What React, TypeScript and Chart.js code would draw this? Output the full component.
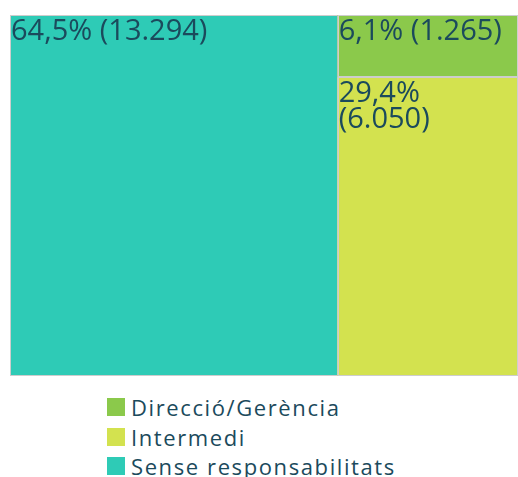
import React, { useEffect, useRef } from "react";
import { Chart, registerables } from "chart.js";

Chart.register(...registerables);

const categories = ["Direcció/Gerència", "Intermedi", "Sense responsabilitats"];
const values = [1265, 6050, 13294];
const colors = ["#8bc94b", "#d3e24f", "#2ecbb6"];

const TEXT_COLOR = "#1b4a5c";
const FONT = "'Open Sans', sans-serif";

function fmtPct(v: number, total: number) {
  return (v / total * 100).toFixed(1).replace(".", ",") + "%";
}
function fmtNum(v: number) {
  return String(v).replace(/\B(?=(\d{3})+(?!\d))/g, ".");
}

function layout() {
  const total = values.reduce((a, b) => a + b, 0);
  let maxI = 0;
  values.forEach((v, i) => { if (v > values[maxI]) maxI = i; });
  const rects: { i: number; x0: number; x1: number; y0: number; y1: number }[] = [];
  rects.push({ i: maxI, x0: 0, x1: values[maxI], y0: 0, y1: 1 });
  const rest = total - values[maxI];
  let acc = 0;
  values.forEach((v, i) => {
    if (i === maxI) return;
    rects.push({ i, x0: values[maxI], x1: total, y0: acc / rest, y1: (acc + v) / rest });
    acc += v;
  });
  return { rects, total };
}

const treemapPlugin = {
  id: "treemapRects",
  afterDatasetsDraw(chart: any) {
    const ctx = chart.ctx;
    const xs = chart.scales.x;
    const ys = chart.scales.y;
    const { rects, total } = layout();
    ctx.save();
    rects.forEach((r) => {
      const left = xs.getPixelForValue(r.x0);
      const right = xs.getPixelForValue(r.x1);
      const top = ys.getPixelForValue(r.y0);
      const bottom = ys.getPixelForValue(r.y1);
      ctx.fillStyle = colors[r.i];
      ctx.fillRect(left, top, right - left, bottom - top);
      ctx.strokeStyle = "#cdcdcd";
      ctx.lineWidth = 1;
      ctx.strokeRect(Math.round(left) + 0.5, Math.round(top) + 0.5, Math.round(right - left) - 1, Math.round(bottom - top) - 1);
    });
    rects.forEach((r) => {
      const left = xs.getPixelForValue(r.x0);
      const right = xs.getPixelForValue(r.x1);
      const top = ys.getPixelForValue(r.y0);
      const label = fmtPct(values[r.i], total) + " (" + fmtNum(values[r.i]) + ")";
      ctx.font = `29px ${FONT}`;
      ctx.fillStyle = TEXT_COLOR;
      ctx.textBaseline = "alphabetic";
      ctx.textAlign = "left";
      const avail = right - left - 4;
      let lines = [label];
      if (ctx.measureText(label).width > avail) lines = label.split(" ");
      lines.forEach((ln, k) => {
        ctx.fillText(ln, left + 1, top + 25 + k * 26);
      });
    });
    ctx.restore();
  },
};

export default function App() {
  const ref = useRef<HTMLCanvasElement | null>(null);
  useEffect(() => {
    document.body.style.margin = "0";
    const total = values.reduce((a, b) => a + b, 0);
    const chart = new Chart(ref.current as HTMLCanvasElement, {
      type: "scatter",
      data: {
        datasets: categories.map((c, i) => ({
          label: c,
          data: [],
          backgroundColor: colors[i],
        })),
      },
      options: {
        responsive: false,
        animation: false,
        devicePixelRatio: 1,
        layout: { padding: { left: 10, top: 15, right: 0, bottom: 1 } },
        plugins: { legend: { display: false }, tooltip: { enabled: false } },
        scales: {
          x: { type: "linear", min: 0, max: total, display: false },
          y: { type: "linear", min: 0, max: 1, reverse: true, display: false },
        },
      },
      plugins: [treemapPlugin],
    } as any);
    return () => chart.destroy();
  }, []);

  return (
    <div style={{ width: 518, fontFamily: FONT }}>
      <canvas ref={ref} width={518} height={377} style={{ display: "block" }} />
      <div style={{ paddingLeft: 107, marginTop: 15.25 }}>
        {categories.map((c, i) => (
          <div key={c} style={{ display: "flex", alignItems: "center", height: 29.5 }}>
            <span style={{ width: 18, height: 18, background: colors[i], display: "inline-block", flexShrink: 0 }} />
            <span style={{ marginLeft: 6, fontSize: 22, letterSpacing: 1.6, color: TEXT_COLOR, lineHeight: "22px", whiteSpace: "nowrap" }}>{c}</span>
          </div>
        ))}
      </div>
    </div>
  );
}
